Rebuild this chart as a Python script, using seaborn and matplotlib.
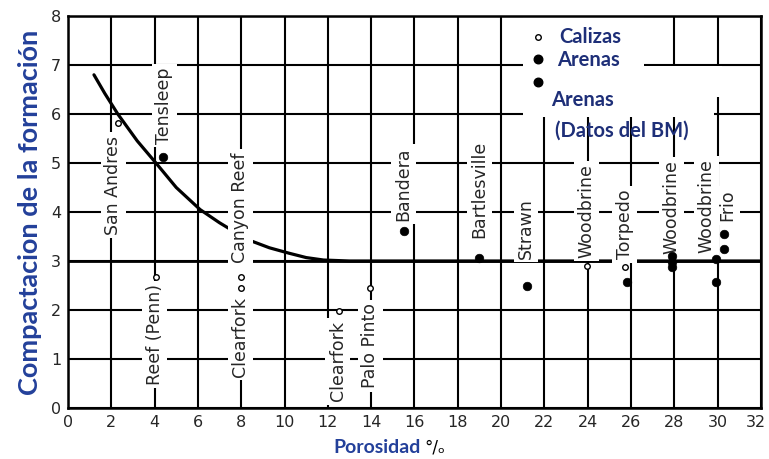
import matplotlib
matplotlib.use("Agg")
import matplotlib.pyplot as plt
import matplotlib.transforms as mtransforms
import seaborn as sns
from matplotlib.patches import Rectangle

# curve (porosity %, compaction)
curve_x = [1.2, 1.7, 2.3, 3.2, 4.1, 5.0, 6.1, 7.0, 7.6, 8.4, 9.3, 10.2, 11.0, 11.8, 13.0, 32.0]
curve_y = [6.8, 6.42, 6.0, 5.45, 4.98, 4.5, 4.05, 3.78, 3.62, 3.42, 3.27, 3.16, 3.07, 3.02, 3.0, 3.0]

# limestones (open circles)
caliza_x = [2.3, 4.05, 8.0, 8.0, 12.5, 13.95, 23.97, 25.7]
caliza_y = [5.82, 2.68, 2.68, 2.45, 1.97, 2.45, 2.9, 2.88]

# sands (filled dots)
arena_x = [4.4, 15.5, 19.0, 21.2, 25.8, 27.9, 27.9, 27.9, 29.9, 29.9, 30.3, 30.3]
arena_y = [5.12, 3.62, 3.07, 2.5, 2.58, 3.1, 2.98, 2.87, 3.05, 2.58, 3.25, 3.56]

# field names, written vertically
field_names = ["San Andres", "Tensleep", "Reef (Penn)", "Clearfork", "Canyon Reef",
               "Clearfork", "Palo Pinto", "Bandera", "Bartlesville", "Strawn",
               "Woodbrine", "Torpedo", "Woodbrine", "Woodbrine", "Frio"]
field_x = [2.1, 4.45, 4.0, 7.95, 7.95, 12.45, 13.95, 15.5, 19.0, 21.15, 23.95, 25.7, 27.85, 29.5, 30.45]
field_y = [4.55, 6.17, 1.5, 1.45, 4.08, 0.95, 1.27, 4.57, 4.46, 3.67, 4.02, 3.75, 4.1, 4.12, 4.13]

x_ticks = list(range(0, 33, 2))
y_ticks = list(range(0, 9))

sns.set_style("white")
plt.rcParams['font.family'] = ['DejaVu Sans']

fig, ax = plt.subplots(figsize=(7.69, 4.59), dpi=100)
fig.subplots_adjust(left=0.0884, right=0.9896, top=0.9651, bottom=0.1111)

ax.set_xlim(0, 32)
ax.set_ylim(0, 8)
ax.set_xticks(x_ticks)
ax.set_yticks(y_ticks)
ax.set_axisbelow(True)
ax.grid(True, color='black', lw=1.5)
ax.tick_params(length=0, labelsize=11.5, pad=5)
for s in ax.spines.values():
    s.set_color('black')
    s.set_linewidth(1.8)
# keep the last x label inside the picture
last = ax.get_xticklabels()[-1]
last.set_transform(last.get_transform() + mtransforms.ScaledTranslation(-5 / 100, 0, fig.dpi_scale_trans))

sns.lineplot(x=curve_x, y=curve_y, ax=ax, color='black', lw=2.3, sort=False,
             estimator=None, zorder=2)
ax.axhline(3, color='black', lw=2.0, zorder=0.6)

for name, x, y in zip(field_names, field_x, field_y):
    ax.text(x, y, name, rotation=90, ha='center', va='center', fontsize=12.5,
            zorder=3, bbox=dict(fc='white', ec='none', pad=2.5))
# gap in the x=8 line between Clearfork and Canyon Reef
ax.add_patch(Rectangle((7.8, 2.2), 0.35, 0.75, fc='white', ec='none', zorder=3))

sns.scatterplot(x=arena_x, y=arena_y, ax=ax, color='black', s=38,
                edgecolor='black', zorder=5)
sns.scatterplot(x=caliza_x, y=caliza_y, ax=ax, facecolor='white', s=16,
                edgecolor='black', linewidth=1.0, zorder=5)

# white area behind the legend
ax.add_patch(Rectangle((21.0, 6.95), 5.6, 1.05, fc='white', ec='none', zorder=1))
ax.add_patch(Rectangle((21.0, 5.93), 8.85, 1.05, fc='white', ec='none', zorder=1))
ax.add_patch(Rectangle((29.8, 6.35), 0.4, 0.63, fc='white', ec='none', zorder=1))

leg_color = '#1e2f78'
ax.scatter([21.7], [7.58], s=16, facecolor='white', edgecolor='black', lw=1.0, zorder=5)
ax.scatter([21.7, 21.7], [7.12, 6.65], s=38, color='black', zorder=5)
leg_kw = dict(color=leg_color, fontsize=14.5, fontweight='bold', family='Lato',
              va='center', zorder=6)
ax.text(22.7, 7.57, "Calizas", **leg_kw)
ax.text(22.6, 7.1, "Arenas", **leg_kw)
ax.text(22.3, 6.28, "Arenas", **leg_kw)
ax.text(22.5, 5.66, "(Datos del BM)", **leg_kw)

lab_color = '#23409a'
ax.set_ylabel("Compactacion de la formación", color=lab_color, fontsize=19.5,
              fontweight='bold', family='Lato', labelpad=6)
ax.set_xlabel("")
fig.text(0.49, 0.006, "Porosidad", color=lab_color, fontsize=14,
         fontweight='bold', family='Lato', ha='center', va='bottom')
fig.text(0.566, 0.006, "°/ₒ", color='black', fontsize=12, ha='center', va='bottom')

fig.savefig("out.png", dpi=100)
